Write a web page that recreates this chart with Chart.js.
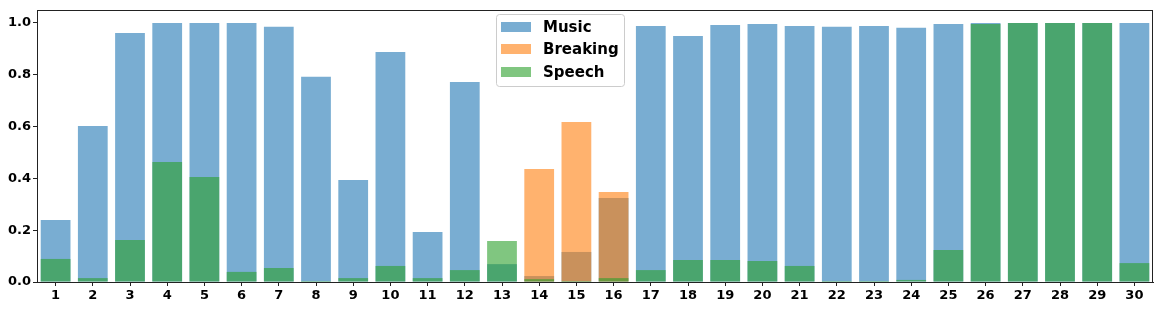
<!DOCTYPE html>
<html>
<head>
<meta charset="utf-8">
<script src="https://cdn.jsdelivr.net/npm/chart.js@4.4.0/dist/chart.umd.min.js"></script>
<style>
html,body{margin:0;padding:0;background:#fff;}
canvas{display:block;}
</style>
</head>
<body>
<canvas id="c" width="1163" height="309"></canvas>
<script>
const categories = ["1","2","3","4","5","6","7","8","9","10","11","12","13","14","15","16","17","18","19","20","21","22","23","24","25","26","27","28","29","30"];
const music    = [0.239,0.602,0.961,1.0,1.0,1.0,0.985,0.792,0.394,0.888,0.193,0.772,0.069,0.023,0.116,0.324,0.988,0.950,0.992,0.996,0.988,0.985,0.988,0.981,0.996,1.0,1.0,1.0,1.0,1.0];
const breaking = [0,0,0,0,0,0,0,0,0,0,0,0,0,0.436,0.618,0.347,0,0,0,0,0,0,0,0,0,0,0,0,0,0];
const speech   = [0.089,0.015,0.162,0.463,0.405,0.039,0.054,0.004,0.015,0.062,0.015,0.046,0.158,0.011,0.004,0.015,0.046,0.085,0.085,0.081,0.062,0.004,0.004,0.008,0.124,0.996,1.0,1.0,1.0,0.073];
const seriesNames = ["Music","Breaking","Speech"];
const yTicks = [0,0.2,0.4,0.6,0.8,1.0];

const colors = ["rgba(31,119,180,0.6)","rgba(255,127,14,0.6)","rgba(44,160,44,0.6)"];
const FONT = "'DejaVu Sans', sans-serif";

const frame = {
  id:'frame',
  afterDatasetsDraw(chart){
    const {ctx, chartArea:a} = chart;
    ctx.save();
    ctx.strokeStyle = '#222';
    ctx.lineWidth = 1;
    ctx.strokeRect(a.left+0.5, a.top+0.5, a.right-a.left-1, a.bottom-a.top);
    ctx.restore();
  }
};

const legendBox = {
  id:'legendBox',
  afterDraw(chart){
    const ctx = chart.ctx;
    const x0 = 496, y0 = 14, w = 128, h = 72;
    ctx.save();
    ctx.fillStyle = 'rgba(255,255,255,0.8)';
    ctx.strokeStyle = '#cccccc';
    ctx.lineWidth = 1;
    const r = 3;
    ctx.beginPath();
    ctx.moveTo(x0+r+0.5, y0+0.5);
    ctx.arcTo(x0+w+0.5, y0+0.5, x0+w+0.5, y0+h+0.5, r);
    ctx.arcTo(x0+w+0.5, y0+h+0.5, x0+0.5, y0+h+0.5, r);
    ctx.arcTo(x0+0.5, y0+h+0.5, x0+0.5, y0+0.5, r);
    ctx.arcTo(x0+0.5, y0+0.5, x0+w+0.5, y0+0.5, r);
    ctx.closePath();
    ctx.fill(); ctx.stroke();
    ctx.font = "bold 15px " + FONT;
    ctx.textBaseline = 'middle';
    const rows = [27, 49, 72];
    chart.data.datasets.forEach((ds, i) => {
      ctx.fillStyle = ds.backgroundColor;
      ctx.fillRect(501, rows[i]-5, 30, 10);
      ctx.fillStyle = '#000';
      ctx.fillText(ds.label, 543, rows[i]+1);
    });
    ctx.restore();
  }
};

new Chart(document.getElementById('c'), {
  type: 'bar',
  data: {
    labels: categories,
    datasets: [
      {label: seriesNames[0], data: music, backgroundColor: colors[0], order: 3},
      {label: seriesNames[1], data: breaking, backgroundColor: colors[1], order: 2},
      {label: seriesNames[2], data: speech, backgroundColor: colors[2], order: 1}
    ]
  },
  options: {
    responsive: false,
    animation: false,
    devicePixelRatio: 1,
    layout: {padding: {left: 0, right: 10, top: 10, bottom: 0}},
    datasets: {bar: {grouped: false, categoryPercentage: 0.8, barPercentage: 1.0, borderWidth: 0}},
    plugins: {legend: {display: false}, tooltip: {enabled: false}},
    scales: {
      x: {
        offset: true,
        grid: {drawOnChartArea: false, tickLength: 4, color: '#222', offset: false},
        border: {display: true, color: '#222'},
        ticks: {font: {family: FONT, size: 13, weight: 'bold'}, color: '#000', padding: 2, maxRotation: 0, autoSkip: false},
        afterFit(s){ s.height = 27; }
      },
      y: {
        min: 0, max: 1.05,
        grid: {drawOnChartArea: false, tickLength: 4, color: '#222'},
        border: {display: true, color: '#222'},
        ticks: {
          stepSize: 0.2, includeBounds: false,
          font: {family: FONT, size: 13, weight: 'bold'}, color: '#000', padding: 2,
          callback: v => yTicks.some(t => Math.abs(t - v) < 1e-6) ? Number(v).toFixed(1) : ''
        },
        afterFit(s){ s.width = 37; }
      }
    }
  },
  plugins: [frame, legendBox]
});
</script>
</body>
</html>
